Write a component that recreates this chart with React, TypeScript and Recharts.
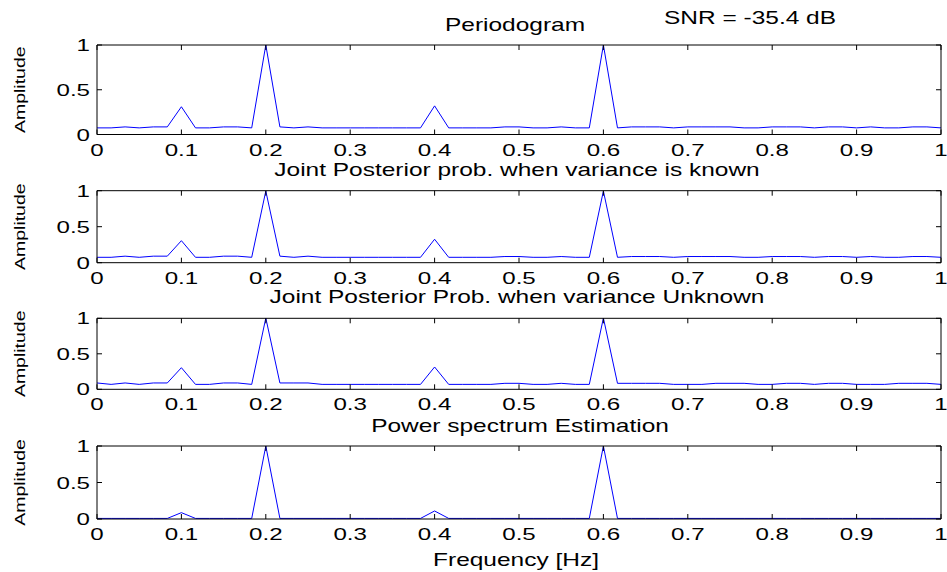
import React from 'react';
import { LineChart, Line, XAxis, YAxis } from 'recharts';

// frequency grid (Hz), 61 bins
const FREQ = [
  0, 0.0167, 0.0333, 0.05, 0.0667, 0.0833, 0.1, 0.1167, 0.1333, 0.15, 0.1667, 0.1833,
  0.2, 0.2167, 0.2333, 0.25, 0.2667, 0.2833, 0.3, 0.3167, 0.3333, 0.35, 0.3667, 0.3833,
  0.4, 0.4167, 0.4333, 0.45, 0.4667, 0.4833, 0.5, 0.5167, 0.5333, 0.55, 0.5667, 0.5833,
  0.6, 0.6167, 0.6333, 0.65, 0.6667, 0.6833, 0.7, 0.7167, 0.7333, 0.75, 0.7667, 0.7833,
  0.8, 0.8167, 0.8333, 0.85, 0.8667, 0.8833, 0.9, 0.9167, 0.9333, 0.95, 0.9667, 0.9833, 1,
];

const PERIODOGRAM = [
  0.074, 0.074, 0.085, 0.074, 0.085, 0.085, 0.31, 0.074, 0.074, 0.085, 0.085, 0.074,
  1, 0.085, 0.074, 0.085, 0.074, 0.074, 0.074, 0.074, 0.074, 0.074, 0.074, 0.074,
  0.32, 0.074, 0.074, 0.074, 0.074, 0.085, 0.085, 0.074, 0.074, 0.085, 0.074, 0.074,
  1, 0.074, 0.085, 0.085, 0.085, 0.074, 0.085, 0.085, 0.085, 0.085, 0.074, 0.074,
  0.085, 0.085, 0.085, 0.074, 0.085, 0.085, 0.074, 0.085, 0.074, 0.074, 0.085, 0.085, 0.074,
];

const POSTERIOR_KNOWN = [
  0.079, 0.079, 0.095, 0.079, 0.095, 0.095, 0.31, 0.079, 0.079, 0.095, 0.095, 0.079,
  1, 0.095, 0.079, 0.095, 0.079, 0.079, 0.079, 0.079, 0.079, 0.079, 0.079, 0.079,
  0.33, 0.079, 0.079, 0.079, 0.079, 0.09, 0.09, 0.079, 0.079, 0.09, 0.079, 0.079,
  1, 0.079, 0.09, 0.09, 0.09, 0.079, 0.09, 0.09, 0.09, 0.09, 0.079, 0.079,
  0.09, 0.09, 0.09, 0.079, 0.09, 0.09, 0.079, 0.09, 0.079, 0.079, 0.09, 0.09, 0.079,
];

const POSTERIOR_UNKNOWN = [
  0.085, 0.065, 0.085, 0.065, 0.085, 0.085, 0.3, 0.065, 0.065, 0.085, 0.085, 0.065,
  1, 0.085, 0.085, 0.085, 0.065, 0.065, 0.065, 0.065, 0.065, 0.065, 0.065, 0.065,
  0.31, 0.065, 0.065, 0.065, 0.065, 0.08, 0.08, 0.065, 0.065, 0.08, 0.065, 0.065,
  1, 0.08, 0.08, 0.08, 0.08, 0.065, 0.065, 0.065, 0.08, 0.08, 0.08, 0.065,
  0.065, 0.08, 0.08, 0.065, 0.08, 0.08, 0.065, 0.065, 0.065, 0.08, 0.08, 0.08, 0.065,
];

const POWER_SPECTRUM = [
  0.008, 0.008, 0.008, 0.008, 0.008, 0.008, 0.087, 0.008, 0.008, 0.008, 0.008, 0.008,
  1, 0.008, 0.008, 0.008, 0.008, 0.008, 0.008, 0.008, 0.008, 0.008, 0.008, 0.008,
  0.11, 0.008, 0.008, 0.008, 0.008, 0.008, 0.008, 0.008, 0.008, 0.008, 0.008, 0.008,
  1, 0.008, 0.008, 0.008, 0.008, 0.008, 0.008, 0.008, 0.008, 0.008, 0.008, 0.008,
  0.008, 0.008, 0.008, 0.008, 0.008, 0.008, 0.008, 0.008, 0.008, 0.008, 0.008, 0.008, 0.008,
];

const X_TICKS = [0, 0.1, 0.2, 0.3, 0.4, 0.5, 0.6, 0.7, 0.8, 0.9, 1];
const Y_TICKS = [0, 0.5, 1];

const FONT = '"Liberation Sans", Arial, sans-serif';
const W = 947;
const PAD = 10; // room above the plot box for the "1" label
const PLOT_L = 97; // plot box left edge
const PLOT_W = 844; // plot box width
const TICK_PX = 5; // matlab-style inward tick length

const XTick = (props: any) => {
  const { x, y, payload } = props;
  return (
    <g transform={`translate(${x},${y}) scale(1.42,1)`}>
      <text x={0} y={0} dy="0.71em" textAnchor="middle" fontSize={17} fontFamily={FONT} fill="#000">
        {String(payload.value)}
      </text>
    </g>
  );
};

const YTick = (props: any) => {
  const { x, y, payload } = props;
  return (
    <g transform={`translate(${x},${y}) scale(1.42,1)`}>
      <text x={0} y={0} dy="0.355em" textAnchor="end" fontSize={17} fontFamily={FONT} fill="#000">
        {String(payload.value)}
      </text>
    </g>
  );
};

interface PanelProps {
  top: number;
  plotH: number;
  values: number[];
}

const Panel: React.FC<PanelProps> = ({ top, plotH, values }) => {
  const data = FREQ.map((f, i) => ({ f, v: values[i] }));
  return (
    <div style={{ position: 'absolute', left: 0, top: top - PAD }}>
      <LineChart
        width={W}
        height={plotH + PAD + 30}
        data={data}
        margin={{ top: PAD, right: W - PLOT_L - PLOT_W, bottom: 0, left: PLOT_L - 60 }}
      >
        <XAxis
          dataKey="f"
          type="number"
          domain={[0, 1]}
          ticks={X_TICKS}
          height={30}
          axisLine={false}
          tickLine={false}
          tickMargin={3}
          tick={<XTick />}
          interval={0}
        />
        <YAxis
          type="number"
          domain={[0, 1]}
          ticks={Y_TICKS}
          width={60}
          axisLine={false}
          tickLine={false}
          tickMargin={1}
          tick={<YTick />}
          interval={0}
        />
        <Line
          type="linear"
          dataKey="v"
          stroke="#0000ff"
          strokeWidth={1}
          dot={false}
          isAnimationActive={false}
        />
      </LineChart>
    </div>
  );
};

// axes box with inward ticks, in the same pixel frame as the chart plot area
const Frame = ({ top, plotH }: { top: number; plotH: number }) => {
  const bottom = top + plotH;
  const right = PLOT_L + PLOT_W;
  const edges = [
    { x1: PLOT_L, y1: top, x2: right, y2: top },
    { x1: PLOT_L, y1: bottom, x2: right, y2: bottom },
    { x1: PLOT_L, y1: top, x2: PLOT_L, y2: bottom },
    { x1: right, y1: top, x2: right, y2: bottom },
  ];
  return (
    <g>
      {edges.map((e, i) => (
        <line key={`e${i}`} {...e} stroke="#000" strokeWidth={1} />
      ))}
      {X_TICKS.map((t) => {
        const x = PLOT_L + t * PLOT_W;
        return (
          <g key={`x${t}`}>
            <line x1={x} y1={bottom} x2={x} y2={bottom - TICK_PX} stroke="#000" strokeWidth={1} />
            <line x1={x} y1={top} x2={x} y2={top + TICK_PX} stroke="#000" strokeWidth={1} />
          </g>
        );
      })}
      {Y_TICKS.map((t) => {
        const y = bottom - t * plotH;
        return (
          <g key={`y${t}`}>
            <line x1={PLOT_L} y1={y} x2={PLOT_L + TICK_PX} y2={y} stroke="#000" strokeWidth={1} />
            <line x1={right} y1={y} x2={right - TICK_PX} y2={y} stroke="#000" strokeWidth={1} />
          </g>
        );
      })}
    </g>
  );
};

const Title = ({ x, y, text, size = 18, sx = 1.36 }: { x: number; y: number; text: string; size?: number; sx?: number }) => (
  <g transform={`translate(${x},${y}) scale(${sx},1)`}>
    <text x={0} y={0} textAnchor="middle" fontSize={size} fontFamily={FONT} fill="#000">
      {text}
    </text>
  </g>
);

const YLabel = ({ cy }: { cy: number }) => (
  <g transform={`translate(25,${cy}) rotate(-90) scale(1.3,1)`}>
    <text x={0} y={0} textAnchor="middle" fontSize={15} fontFamily={FONT} fill="#000">
      Amplitude
    </text>
  </g>
);

const PANELS = [
  { top: 45, plotH: 89.5, values: PERIODOGRAM },
  { top: 190.7, plotH: 72, values: POSTERIOR_KNOWN },
  { top: 318.3, plotH: 71, values: POSTERIOR_UNKNOWN },
  { top: 446, plotH: 73, values: POWER_SPECTRUM },
];

export default function App() {
  return (
    <div style={{ position: 'absolute', left: 0, top: 0, width: W, height: 572, background: '#fff' }}>
      {PANELS.map((p, i) => (
        <Panel key={i} top={p.top} plotH={p.plotH} values={p.values} />
      ))}
      <svg width={W} height={572} style={{ position: 'absolute', left: 0, top: 0, pointerEvents: 'none', zIndex: 5 }}>
        {PANELS.map((p, i) => (
          <Frame key={i} top={p.top} plotH={p.plotH} />
        ))}
        <Title x={515} y={31} text="Periodogram" />
        <Title x={750} y={24} text="SNR = -35.4 dB" />
        <Title x={517} y={176} text="Joint Posterior prob. when variance is known" />
        <Title x={517} y={303} text="Joint Posterior Prob. when variance Unknown" />
        <Title x={520} y={432} text="Power spectrum Estimation" />
        <Title x={516} y={566} text="Frequency [Hz]" />
        {PANELS.map((p, i) => (
          <YLabel key={i} cy={p.top + p.plotH / 2} />
        ))}
      </svg>
    </div>
  );
}
